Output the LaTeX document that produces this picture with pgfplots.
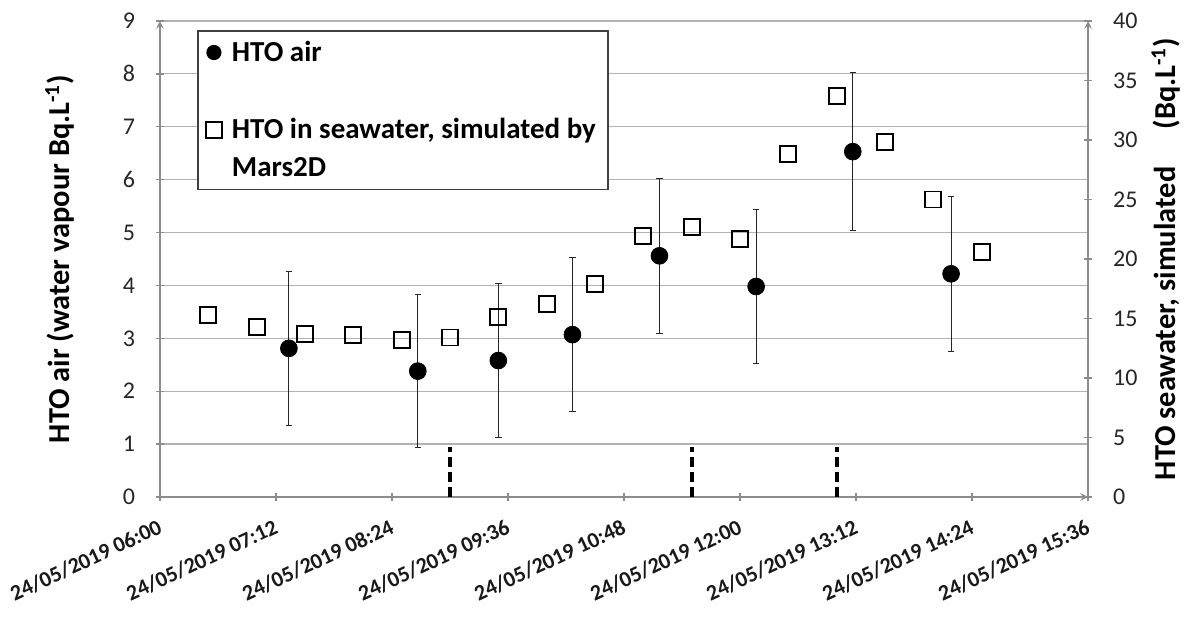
\documentclass[border=0pt]{standalone}
\usepackage{fontspec}
\setmainfont{Carlito}
\usepackage{pgfplots}
\pgfplotsset{compat=1.18}
\begin{document}
\begin{tikzpicture}
\pgfplotsset{
  every axis/.append style={
    width=464pt, height=238pt, scale only axis,
    xmin=0, xmax=576,
    tick align=outside, major tick length=4pt,
    axis line style={-, draw=gray!90, line width=0.7pt},
    tick style={gray!90, line width=0.7pt},
    /pgf/number format/assume math mode=true,
  },
}
% left axis: HTO in air (Bq/L of water vapour)
\begin{axis}[
  name=ax,
  axis x line=bottom, axis y line=left,
  ymin=0, ymax=9, ytick={0,1,...,9},
  ymajorgrids, major grid style={gray!60, line width=0.6pt},
  y tick label style={font=\fontsize{12}{14}\selectfont, black!85},
  yticklabel shift=7pt,
  xtick={0,72,...,576},
  xticklabels={24/05/2019 06:00,24/05/2019 07:12,24/05/2019 08:24,24/05/2019 09:36,24/05/2019 10:48,24/05/2019 12:00,24/05/2019 13:12,24/05/2019 14:24,24/05/2019 15:36},
  x tick label style={rotate=25, anchor=north east,
    font=\bfseries\fontsize{11}{13}\selectfont, black!90},
  xticklabel shift=4pt,
  ylabel={HTO air (water vapour Bq.L\textsuperscript{-1})},
  every axis y label/.style={at={(axis description cs:-0.108,0.5)}, rotate=90, anchor=center,
    font=\bfseries\fontsize{15.2}{17}\selectfont},
  clip=false,
]
% sampling periods (dashed markers)
\addplot[black, line width=2pt, dash pattern=on 5pt off 2.5pt] coordinates {(180,0) (180,0.95)};
\addplot[black, line width=2pt, dash pattern=on 5pt off 2.5pt] coordinates {(330,0) (330,0.95)};
\addplot[black, line width=2pt, dash pattern=on 5pt off 2.5pt] coordinates {(420,0) (420,0.95)};
\addplot[only marks, mark=*, mark size=4.2pt, black,
  error bars/.cd, y dir=both, y explicit,
  error bar style={black!85, line width=0.5pt},
  error mark options={rotate=90, mark size=1.6pt, line width=0.5pt, black!85}]
  coordinates {
    (80,2.81) +- (0,1.45)
    (160,2.38) +- (0,1.44)
    (210,2.58) +- (0,1.45)
    (256,3.07) +- (0,1.45)
    (310,4.56) +- (0,1.47)
    (370,3.98) +- (0,1.46)
    (430,6.53) +- (0,1.50)
    (491,4.22) +- (0,1.46)
  };
\end{axis}
% right axis: simulated HTO in seawater (Bq/L)
\begin{axis}[
  axis y line=right, axis x line=none,
  ymin=0, ymax=40, ytick={0,5,...,40},
  y tick label style={font=\fontsize{12}{14}\selectfont, black!85},
  yticklabel shift=7pt,
  ylabel={HTO seawater, simulated\quad\ (Bq.L\textsuperscript{-1})},
  every axis y label/.style={at={(axis description cs:1.084,0.5)}, rotate=90, anchor=center,
    font=\bfseries\fontsize{15.2}{17}\selectfont},
  legend cell align=left,
  legend image code/.code={\draw[#1] plot coordinates {(0pt,0pt)};},
  legend style={at={(axis description cs:0.04,0.981)}, anchor=north west,
    draw=black!75, line width=0.8pt, cells={align=left},
    font=\bfseries\fontsize{14.5}{19}\selectfont,
    row sep=23pt, column sep=3pt, inner xsep=4pt, inner ysep=3pt},
  clip=false,
]
\addlegendimage{only marks, mark=*, mark size=3.4pt, black}
\addlegendentry{HTO air}
\addplot[only marks, mark=square, mark size=4pt, black, line width=0.9pt,
  legend image post style={yshift=9.5pt}]
  coordinates {
    (30,15.3) (60,14.3) (90,13.7) (120,13.6) (150,13.2) (180,13.4)
    (210,15.1) (240,16.2) (270,17.9) (300,21.9) (330,22.7) (360,21.7)
    (390,28.8) (420,33.7) (450,29.8) (480,25.0) (510,20.6)
  };
\addlegendentry{HTO in seawater, simulated by\\Mars2D}
\end{axis}
\pgfresetboundingbox
\path ([shift={(-80pt,-60pt)}]ax.south west) rectangle ([shift={(50pt,10.5pt)}]ax.north east);
\end{tikzpicture}
\end{document}
